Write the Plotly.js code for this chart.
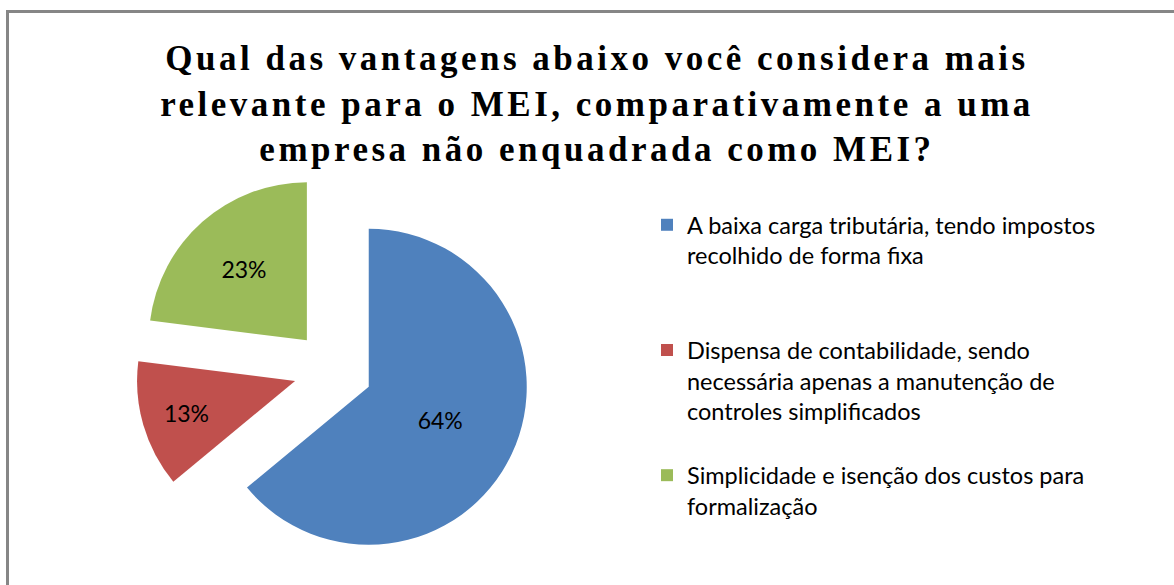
<!DOCTYPE html>
<html>
<head>
<meta charset="utf-8">
<script src="https://cdn.plot.ly/plotly-3.0.1.min.js"></script>
<style>
html,body{margin:0;padding:0;background:#fff;}
#chart .gtitle{letter-spacing:3.5px;}
</style>
</head>
<body>
<div id="chart" style="width:1174px;height:585px;"></div>
<script>
var categories = [
  "A baixa carga tributária, tendo impostos<br>recolhido de forma fixa<br>\u00a0<br>\u00a0",
  "Dispensa de contabilidade, sendo<br>necessária apenas a manutenção de<br>controles simplificados<br>\u00a0",
  "Simplicidade e isenção dos custos para<br>formalização"
];
var percentValues = [64, 13, 23];
var sliceColors = ["#4F81BD", "#C0504D", "#9BBB59"];
var titleText = "Qual das vantagens abaixo você considera mais<br>relevante para o MEI, comparativamente a uma<br>empresa não enquadrada como MEI?";

var W = 1174, H = 585;
var R = 158, pull = 0.25, cx = 333, cy = 370;
var half = R * (1 + pull);

var trace = {
  type: "pie",
  labels: categories,
  values: percentValues,
  sort: false,
  direction: "clockwise",
  rotation: 0,
  pull: [pull, pull, pull],
  marker: {colors: sliceColors, line: {width: 0}},
  textinfo: "percent",
  textposition: "inside",
  insidetextorientation: "horizontal",
  texttemplate: "%{percent:.0%}",
  textfont: {family: "Lato, Open Sans, sans-serif", size: 23, color: "#000"},
  hoverinfo: "label+percent",
  domain: {x: [(cx - half) / W, (cx + half) / W], y: [1 - (cy + half) / H, 1 - (cy - half) / H]}
};

var layout = {
  width: W, height: H,
  margin: {l: 0, r: 0, t: 0, b: 0},
  paper_bgcolor: "#fff",
  title: {
    text: titleText,
    font: {family: "Liberation Serif, DejaVu Serif, serif", size: 35, color: "#000", weight: 700},
    x: 597 / W, xanchor: "center",
    xref: "container", yref: "container",
    y: 1 - 70 / H, yanchor: "top"
  },
  showlegend: true,
  legend: {
    x: 647 / W, xanchor: "left",
    y: 1 - 203 / H, yanchor: "top",
    valign: "top",
    font: {family: "Lato, Open Sans, sans-serif", size: 23.5, color: "#000"},
    bgcolor: "rgba(0,0,0,0)",
    traceorder: "normal"
  },
  shapes: [
    {type: "line", xref: "paper", yref: "paper", x0: 6 / W, x1: 1, y0: 1 - 11.5 / H, y1: 1 - 11.5 / H, line: {color: "#868686", width: 3}},
    {type: "line", xref: "paper", yref: "paper", x0: 7.5 / W, x1: 7.5 / W, y0: 0, y1: 1 - 10 / H, line: {color: "#868686", width: 3}}
  ]
};

Plotly.newPlot("chart", [trace], layout, {displayModeBar: false, staticPlot: true});
</script>
</body>
</html>
